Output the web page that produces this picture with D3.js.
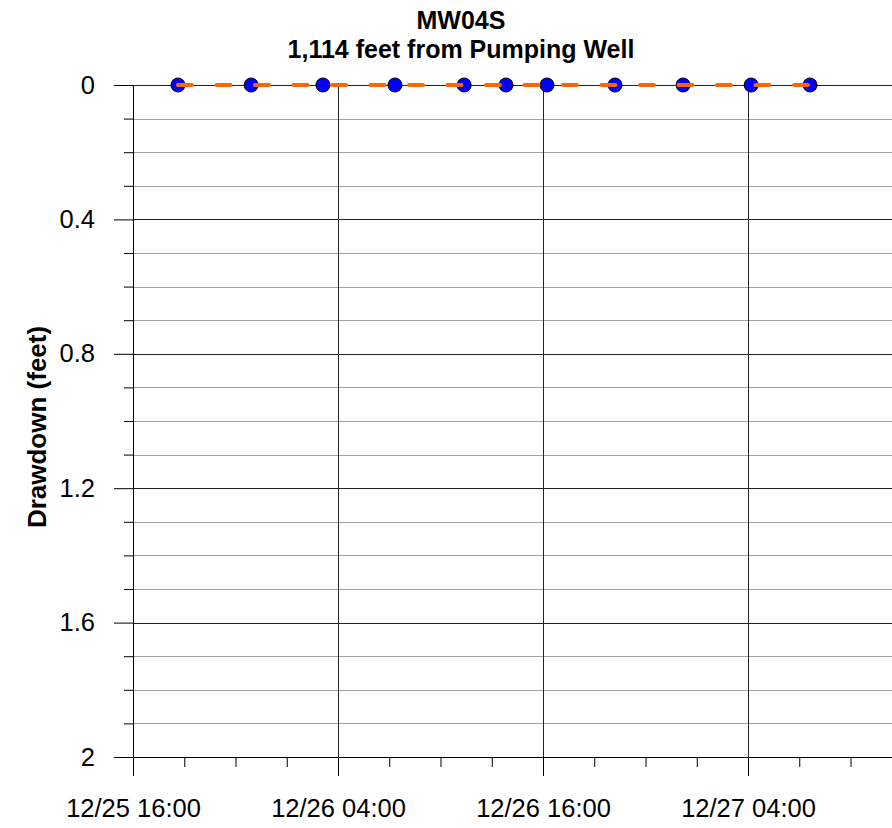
<!DOCTYPE html>
<html>
<head>
<meta charset="utf-8">
<script src="https://cdn.jsdelivr.net/npm/d3@7"></script>
<style>
  body { margin: 0; background: #fff; }
  svg { display: block; font-family: "Liberation Sans", Arial, sans-serif; }
  .axis text { font-size: 25.5px; fill: #000; }
  .axis path, .axis line { stroke: #000; }
</style>
</head>
<body>
<svg id="chart" width="892" height="828"></svg>
<script>
// data
const times = [
    "2025-12-25 18:38", "2025-12-25 22:55", "2025-12-26 03:07", "2025-12-26 07:20",
    "2025-12-26 11:23", "2025-12-26 13:50", "2025-12-26 16:14", "2025-12-26 20:13",
    "2025-12-27 00:12", "2025-12-27 04:11", "2025-12-27 07:38"
];
const drawdown = [0, 0, 0, 0, 0, 0, 0, 0, 0, 0, 0];
const yMajorTicks = [0, 0.4, 0.8, 1.2, 1.6, 2];
const yMinorTicks = [0.1, 0.2, 0.3, 0.5, 0.6, 0.7, 0.9, 1.0, 1.1, 1.3, 1.4, 1.5, 1.7, 1.8, 1.9];
const xStart = "2025-12-25 16:00";
const xEnd = "2025-12-27 16:00";

const parse = d3.timeParse("%Y-%m-%d %H:%M");
const data = times.map((t, i) => ({t: parse(t), v: drawdown[i]}));

const plotLeft = 133, plotTop = 85, plotBottom = 757, plotRight = 953;

const xScale = d3.scaleTime()
    .domain([parse(xStart), parse(xEnd)])
    .range([plotLeft, plotRight]);

const yScale = d3.scaleLinear()
    .domain([0, 2])
    .range([plotTop, plotBottom]);

// ticks every 12 h (major) and 3 h (minor) counted from the axis start
const xMajor = d3.timeHour.range(parse(xStart), parse(xEnd), 12);
const xMinor = d3.timeHour.range(parse(xStart), parse(xEnd), 3);

const svg = d3.select("#chart");

// horizontal gridlines
svg.append("g")
    .selectAll("line")
    .data(yMinorTicks)
    .join("line")
    .attr("x1", plotLeft).attr("x2", plotRight)
    .attr("y1", d => Math.round(yScale(d)) + 0.5)
    .attr("y2", d => Math.round(yScale(d)) + 0.5)
    .attr("stroke", "#a0a0a0");

svg.append("g")
    .selectAll("line")
    .data(yMajorTicks)
    .join("line")
    .attr("x1", plotLeft).attr("x2", plotRight)
    .attr("y1", d => Math.round(yScale(d)) + 0.5)
    .attr("y2", d => Math.round(yScale(d)) + 0.5)
    .attr("stroke", "#222");

// vertical gridlines at the 12 hour ticks
svg.append("g")
    .selectAll("line")
    .data(xMajor)
    .join("line")
    .attr("x1", d => Math.round(xScale(d)) + 0.5)
    .attr("x2", d => Math.round(xScale(d)) + 0.5)
    .attr("y1", plotTop).attr("y2", plotBottom)
    .attr("stroke", "#222");

// Y axis
svg.append("g").attr("class", "axis")
    .attr("transform", `translate(${plotLeft}, 0)`)
    .call(d3.axisLeft(yScale).tickValues(yMinorTicks).tickSize(9).tickSizeOuter(0).tickFormat(""));

svg.append("g").attr("class", "axis")
    .attr("transform", `translate(${plotLeft}, 0)`)
    .call(d3.axisLeft(yScale).tickValues(yMajorTicks).tickSize(19).tickSizeOuter(0).tickPadding(19)
        .tickFormat(d3.format("")));

// X axis
svg.append("g").attr("class", "axis")
    .attr("transform", `translate(0, ${plotBottom})`)
    .call(d3.axisBottom(xScale).tickValues(xMinor).tickSize(10).tickSizeOuter(0).tickFormat(""));

svg.append("g").attr("class", "axis")
    .attr("transform", `translate(0, ${plotBottom})`)
    .call(d3.axisBottom(xScale).tickValues(xMajor).tickSize(19).tickSizeOuter(0).tickPadding(23)
        .tickFormat(d3.timeFormat("%m/%d %H:%M")));

// markers
svg.append("g")
    .selectAll("circle")
    .data(data)
    .join("circle")
    .attr("cx", d => xScale(d.t))
    .attr("cy", d => yScale(d.v))
    .attr("r", 7)
    .attr("fill", "#0000ff")
    .attr("stroke", "#000")
    .attr("stroke-width", 1);

// orange dashed line on top of the markers
const line = d3.line().x(d => xScale(d.t)).y(d => yScale(d.v));
svg.append("path")
    .datum(data)
    .attr("d", line)
    .attr("fill", "none")
    .attr("stroke", "#ff6600")
    .attr("stroke-width", 4)
    .attr("stroke-linecap", "round")
    .attr("stroke-dasharray", "14,24.5");

// Title
svg.append("text")
    .attr("x", 461).attr("y", 29)
    .attr("text-anchor", "middle")
    .attr("font-size", 25).attr("font-weight", "bold")
    .text("MW04S");

svg.append("text")
    .attr("x", 461).attr("y", 58)
    .attr("text-anchor", "middle")
    .attr("font-size", 25).attr("font-weight", "bold")
    .text("1,114 feet from Pumping Well");

// Y label
svg.append("text")
    .attr("transform", `translate(46, 427) rotate(-90)`)
    .attr("text-anchor", "middle")
    .attr("font-size", 26).attr("font-weight", "bold")
    .text("Drawdown (feet)");
</script>
</body>
</html>
